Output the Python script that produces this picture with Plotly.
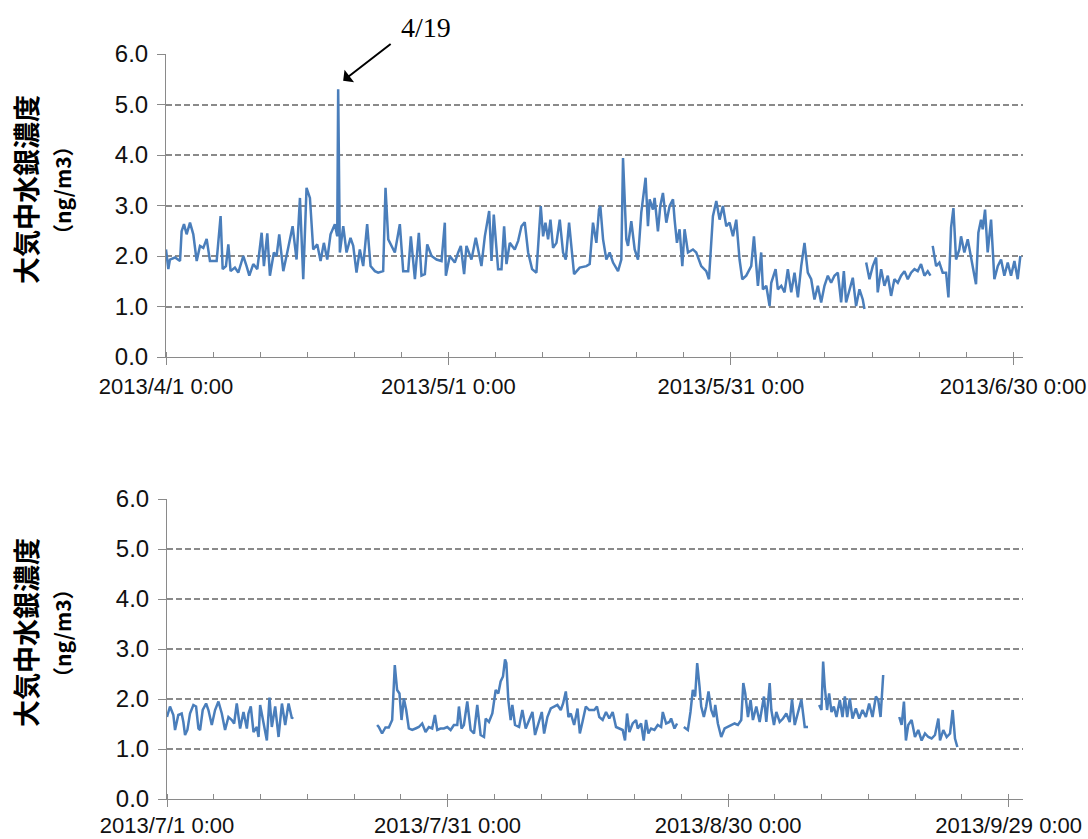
import pandas as pd
import plotly.graph_objects as go

# ---------------- data ----------------
# days after 2013-04-01 0:00 ; None value = missing data
top_days = [0.00,0.25,0.42,0.96,1.49,1.66,1.91,2.19,2.55,2.90,3.26,3.61,3.96,4.32,4.67,5.38,5.80,6.02,6.37,6.62,
            6.86,7.32,7.68,8.21,8.56,8.85,9.27,9.70,10.16,10.40,10.76,11.04,11.46,11.75,12.03,12.46,12.88,13.45,13.87,14.23,
            14.58,14.93,15.29,15.64,16.07,16.42,16.77,17.13,17.48,17.94,18.19,18.29,18.47,18.83,19.18,19.60,19.89,20.24,20.59,20.95,
            21.37,21.73,22.19,22.54,23.07,23.32,23.61,23.96,24.31,24.84,25.20,25.73,26.01,26.44,26.86,27.14,27.50,27.75,28.21,28.74,
            29.27,29.62,29.73,30.15,30.68,31.04,31.32,31.67,31.92,32.45,32.91,33.51,33.87,34.33,34.58,34.82,35.28,35.64,35.92,36.17,
            36.52,37.05,37.41,37.76,38.11,38.47,38.89,39.35,39.81,40.06,40.31,40.59,40.84,41.12,41.48,41.83,42.18,42.47,42.82,43.35,
            43.95,44.66,45.01,45.36,45.72,46.00,46.14,46.43,46.78,47.13,47.49,48.02,48.37,48.55,48.90,49.08,49.43,49.79,50.14,50.49,
            50.74,50.95,51.20,51.38,51.73,51.91,52.26,52.51,52.79,53.15,53.50,53.86,54.03,54.28,54.56,54.85,55.09,55.45,55.98,56.33,
            56.86,57.39,57.68,57.93,58.10,58.46,58.81,59.16,59.52,59.87,60.23,60.58,60.93,61.22,61.64,62.17,62.46,62.88,63.23,63.41,
            63.77,64.12,64.30,64.76,65.00,65.36,65.71,66.06,66.42,66.77,67.13,67.48,67.83,68.18,68.54,68.89,69.25,69.60,69.95,70.31,
            70.66,71.01,71.37,71.72,72.01,72.25,72.61,72.96,73.31,73.67,74.02,74.20,74.29,74.38,74.73,75.08,75.44,75.61,75.97,76.32,
            76.68,77.03,77.38,77.74,78.09,78.45,78.80,79.15,79.51,79.86,80.21,80.57,80.92,81.21,81.33,81.45,81.81,82.16,82.51,82.87,
            83.12,83.40,83.65,83.93,84.28,84.46,84.81,85.17,85.52,85.88,86.05,86.30,86.58,86.76,87.01,87.29,87.65,88.00,88.36,88.71,
            89.06,89.42,89.77,90.13,90.48,90.76]
top_vals = [2.13,1.74,1.93,1.97,1.90,2.49,2.63,2.43,2.66,2.43,1.90,2.20,2.16,2.34,1.90,1.90,2.79,1.74,1.80,2.23,
            1.70,1.77,1.67,2.00,1.80,1.61,1.84,1.74,2.46,1.80,2.45,1.61,2.07,2.00,2.43,1.70,2.07,2.59,1.93,3.15,
            1.54,3.35,3.15,2.13,2.23,1.90,2.26,1.93,2.43,2.63,2.39,5.30,2.07,2.59,2.07,2.36,2.20,1.67,2.13,1.80,
            2.63,1.80,1.70,1.67,1.70,3.35,2.33,2.20,2.07,2.63,1.70,1.70,2.39,1.54,2.46,1.61,1.64,2.23,2.00,1.93,
            1.90,2.66,1.61,2.00,1.87,2.07,2.20,1.64,2.20,1.93,2.36,1.80,2.39,2.89,1.90,2.82,1.74,1.74,2.59,1.84,
            2.26,2.13,2.30,2.59,2.67,2.07,1.74,1.67,2.99,2.39,2.66,2.33,2.72,2.16,2.26,2.72,2.07,1.93,2.66,1.64,
            1.77,1.80,1.84,2.66,2.26,2.92,2.99,2.33,1.93,2.07,1.87,1.70,1.93,3.94,2.33,2.20,2.69,2.13,1.93,2.86,
            3.22,3.55,2.59,3.12,2.92,3.15,2.49,2.99,3.25,2.66,2.99,3.12,2.72,2.26,2.53,1.80,2.53,2.07,2.13,2.07,
            1.80,1.70,1.54,2.26,2.79,3.09,2.72,2.99,2.59,2.66,2.39,2.72,1.93,1.54,1.61,1.80,2.39,1.41,2.07,1.34,
            1.41,1.01,1.47,1.74,1.34,1.41,1.28,1.74,1.28,1.67,1.18,1.80,2.26,1.67,1.54,1.14,1.41,1.08,1.41,1.61,
            1.47,1.61,1.67,1.08,1.70,1.08,1.34,1.57,1.01,1.34,1.14,0.95,None,1.87,1.54,1.80,1.97,1.28,1.74,1.41,
            1.61,1.21,1.54,1.47,1.61,1.70,1.54,1.67,1.74,1.70,1.84,1.61,1.70,1.61,None,2.20,1.80,1.87,1.67,1.67,
            1.18,2.56,2.95,1.93,2.13,2.39,2.07,2.33,1.93,1.61,1.44,2.46,2.72,2.53,2.92,2.07,2.72,1.54,1.80,1.93,
            1.61,1.87,1.61,1.90,1.54,2.00]

# days after 2013-07-01 0:00 ; None value = missing data
bottom_days = [0.00,0.32,0.68,0.86,1.21,1.57,1.75,1.93,2.18,2.46,2.82,3.11,3.36,3.54,3.82,4.18,4.43,4.79,5.14,5.50,
               5.86,6.21,6.57,6.93,7.18,7.46,7.82,8.18,8.54,8.71,8.96,9.25,9.61,9.79,9.96,10.32,10.68,10.96,11.21,11.57,
               11.93,12.29,12.64,13.00,13.36,13.46,18.00,22.47,22.65,23.00,23.36,23.72,24.08,24.36,24.61,24.86,25.08,25.33,25.58,25.86,
               26.22,26.58,26.93,27.29,27.65,28.00,28.36,28.65,28.90,29.25,29.61,29.97,30.33,30.68,31.04,31.22,31.50,31.75,32.11,32.47,
               32.83,33.18,33.54,33.90,34.08,34.43,34.79,35.15,35.43,35.68,35.93,36.15,36.29,36.50,36.75,36.93,37.22,37.65,38.00,38.36,
               38.72,39.08,39.36,39.79,40.08,40.33,40.68,41.04,41.40,41.75,42.11,42.36,42.65,42.93,43.18,43.54,43.90,44.15,44.43,44.79,
               45.15,45.70,45.98,46.23,46.59,46.95,47.30,47.66,48.02,48.38,48.73,48.98,49.20,49.45,49.80,50.16,50.34,50.70,50.98,51.23,
               51.48,51.77,52.13,52.48,52.84,53.02,53.38,53.73,53.91,54.27,54.55,54.90,55.27,55.70,55.98,56.23,56.48,56.70,56.95,57.13,
               57.41,57.66,57.91,58.20,58.48,58.63,58.91,59.27,59.63,59.98,60.34,60.70,61.05,61.41,61.63,61.84,62.13,62.41,62.66,63.02,
               63.38,63.63,63.84,64.09,64.45,64.63,64.91,65.16,65.52,65.88,66.23,66.59,66.84,67.13,67.48,67.84,68.20,68.55,69.10,69.74,
               69.99,70.17,70.34,70.59,70.81,71.06,71.31,71.59,71.95,72.24,72.49,72.74,73.02,73.31,73.67,74.02,74.38,74.74,75.09,75.45,
               75.81,76.06,76.31,76.59,77.40,78.31,78.56,78.81,79.02,79.27,79.63,79.99,80.34,80.70,81.06,81.42,81.77,82.13,82.49,82.67,
               83.02,83.38,83.74,84.02,84.27,84.52]
bottom_vals = [1.64,1.85,1.68,1.38,1.68,1.71,1.54,1.28,1.38,1.71,1.88,1.85,1.41,1.38,1.78,1.91,1.78,1.48,1.78,1.95,
               1.71,1.38,1.64,1.58,1.51,1.91,1.41,1.74,1.41,1.71,1.85,1.34,1.44,1.24,1.88,1.51,1.17,2.03,1.44,1.85,
               1.24,1.91,1.48,1.91,1.61,1.64,None,1.48,1.44,1.31,1.43,1.43,1.58,2.68,2.18,2.11,1.58,2.01,1.78,1.41,
               1.38,1.41,1.44,1.51,1.34,1.44,1.41,1.68,1.38,1.41,1.41,1.44,1.38,1.48,1.48,1.85,1.41,1.48,1.95,1.38,
               1.31,1.88,1.28,1.24,1.61,1.54,1.71,2.18,2.11,2.35,2.45,2.79,2.72,1.98,1.58,1.88,1.48,1.44,1.78,1.41,
               1.58,1.74,1.28,1.58,1.74,1.31,1.64,1.81,1.85,1.88,1.78,1.91,2.15,1.64,1.71,1.48,1.81,1.31,1.54,1.85,
               1.78,1.78,1.85,1.64,1.58,1.74,1.61,1.74,1.44,1.41,1.38,1.17,1.71,1.34,1.51,1.58,1.41,1.51,1.17,1.58,
               1.31,1.41,1.38,1.48,1.44,1.74,1.51,1.54,1.61,1.41,1.51,None,1.44,1.38,1.74,2.18,2.05,2.72,2.25,1.85,
               1.64,1.85,2.15,1.78,1.64,1.88,1.51,1.24,1.41,1.44,1.48,1.51,1.48,1.58,2.32,2.11,1.64,1.98,1.58,1.85,
               1.54,1.85,2.05,1.54,2.32,1.78,1.48,1.74,1.54,1.61,1.71,1.54,1.99,1.48,1.74,1.99,1.44,1.44,None,1.88,
               1.78,2.75,2.25,1.78,2.11,1.74,1.85,1.64,1.98,1.64,2.05,1.64,2.01,1.61,1.81,1.61,1.78,1.64,1.91,1.64,
               2.05,1.98,1.64,2.48,None,1.64,1.48,1.95,1.17,1.48,1.58,1.24,1.38,1.17,1.31,1.24,1.21,1.28,1.61,1.17,
               1.38,1.24,1.31,1.78,1.21,1.04]

y_ticks = [0, 1, 2, 3, 4, 5, 6]
y_title = "大気中水銀濃度"
y_unit = "（ng/m3）"
note_text = "4/19"

# ---------------- figure ----------------
W, H = 1088, 839
LINE = "#4a7ebb"
GRID = "#8a8a8a"
AX = "#8a8a8a"

def px_x(x):
    return x / W

def px_y(y):
    return (H - y) / H

top_t = pd.Timestamp("2013-04-01") + pd.to_timedelta(top_days, unit="D")
bot_t = pd.Timestamp("2013-07-01") + pd.to_timedelta(bottom_days, unit="D")

fig = go.Figure()
fig.add_trace(go.Scatter(x=top_t, y=top_vals, mode="lines", line=dict(color=LINE, width=2.5),
                         xaxis="x", yaxis="y", connectgaps=False, showlegend=False))
fig.add_trace(go.Scatter(x=bot_t, y=bottom_vals, mode="lines", line=dict(color=LINE, width=2.5),
                         xaxis="x2", yaxis="y2", connectgaps=False, showlegend=False))

DAY = 86400000

def xaxis(dom_y_anchor, start, end, x0, x1, standoff):
    return dict(type="date", range=[start, end], domain=[px_x(x0), px_x(x1)], anchor=dom_y_anchor,
                automargin=False,
                tickmode="linear", tick0=start, dtick=30 * DAY, tickformat="%Y/%-m/%-d %-H:%M",
                ticks="outside", ticklen=7, tickcolor=AX, tickwidth=1,
                showline=True, linecolor=AX, linewidth=1, showgrid=False, zeroline=False,
                ticklabelstandoff=standoff,
                tickfont=dict(family="Liberation Sans", size=22, color="#111"),
                minor=dict(tick0=start, dtick=5 * DAY, ticks="inside", ticklen=5, tickcolor=AX, showgrid=False))

def yaxis(x_anchor, y0px, y1px):
    return dict(range=[0, 6], domain=[px_y(y0px), px_y(y1px)], anchor=x_anchor,
                automargin=False,
                tickmode="array", tickvals=y_ticks, ticktext=[f"{v:.1f}" for v in y_ticks],
                ticks="outside", ticklen=8, tickcolor=AX,
                showline=True, linecolor=AX, linewidth=1,
                showgrid=True, gridcolor=GRID, gridwidth=1.5, griddash="6px,3px", zeroline=False,
                ticklabelstandoff=4,
                tickfont=dict(family="Liberation Sans", size=24, color="#111"))

fig.update_layout(
    width=W, height=H, margin=dict(l=0, r=0, t=0, b=0),
    paper_bgcolor="white", plot_bgcolor="white",
    xaxis=xaxis("y", "2013-04-01", "2013-07-01 01:00", 166, 1023, 3),
    yaxis=yaxis("x", 357, 54),
    xaxis2=xaxis("y2", "2013-07-01", "2013-09-30 13:00", 167, 1023, 0),
    yaxis2=yaxis("x2", 799, 499),
    showlegend=False,
)

annots = []
for yc in (190, 633):
    annots.append(dict(x=px_x(25), y=px_y(yc), xref="paper", yref="paper", text="<b>" + y_title + "</b>",
                       textangle=-90, showarrow=False, xanchor="center", yanchor="middle",
                       font=dict(family="Noto Sans CJK JP", size=27, color="#000")))
    annots.append(dict(x=px_x(62), y=px_y(yc), xref="paper", yref="paper", text="<b>" + y_unit + "</b>",
                       textangle=-90, showarrow=False, xanchor="center", yanchor="middle",
                       font=dict(family="Noto Sans CJK JP", size=21, color="#000")))
# arrow pointing at the 4/19 peak
annots.append(dict(x=pd.Timestamp("2013-04-19 19:40"), y=5.47, xref="x", yref="y", text="",
                   showarrow=True, ax=49, ay=-38, arrowhead=1, arrowsize=1.3, arrowwidth=2, arrowcolor="#000",
                   standoff=0))
annots.append(dict(x=px_x(426), y=px_y(28), xref="paper", yref="paper", text=note_text, showarrow=False,
                   xanchor="center", yanchor="middle",
                   font=dict(family="Liberation Serif", size=28, color="#000")))
fig.update_layout(annotations=annots)

# remove the page's default body margin / scrollbars so the 1088x839 figure fills the window
fig.write_html("out.html", config={"displayModeBar": False},
               post_script="document.body.style.margin='0px';document.body.style.overflow='hidden';")
